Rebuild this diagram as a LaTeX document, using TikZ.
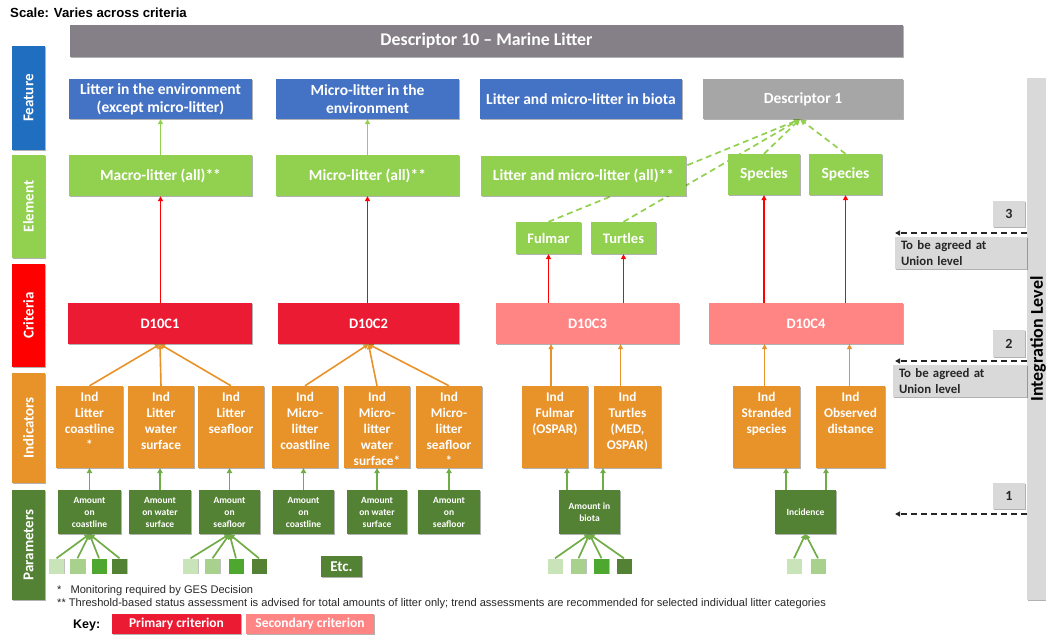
\documentclass[tikz,border=0pt]{standalone}
\usepackage{fontspec}
\setmainfont{Carlito}
\newfontfamily\arialf{Liberation Sans}
\usetikzlibrary{arrows.meta,shadows}
\pgfdeclarelayer{bg}
\pgfsetlayers{bg,main}
\definecolor{cFeatL}{HTML}{1F6EC0}
\definecolor{cFeat}{HTML}{4472C4}
\definecolor{cElem}{HTML}{92D050}
\definecolor{cCritL}{HTML}{FF0000}
\definecolor{cPrim}{HTML}{EC1B34}
\definecolor{cSec}{HTML}{FF8585}
\definecolor{cInd}{HTML}{E8922A}
\definecolor{cPar}{HTML}{548235}
\definecolor{cD10}{HTML}{858088}
\definecolor{cD1}{HTML}{A6A6A6}
\definecolor{cGrayL}{HTML}{D9D9D9}
\definecolor{sqA}{HTML}{C8E4B8}
\definecolor{sqB}{HTML}{A9D18E}
\definecolor{sqC}{HTML}{4EA72E}
\definecolor{sqD}{HTML}{548235}
\definecolor{cArrG}{HTML}{70AD47}
\definecolor{cTxt}{HTML}{262626}
\tikzset{
  box/.style={rectangle, inner sep=0pt, text=white, align=center,
    drop shadow={shadow xshift=0.8pt, shadow yshift=-0.8pt, opacity=0.3, fill=black}},
  sz/.style 2 args={minimum width=#1pt, minimum height=#2pt},
  big/.style={font=\fontsize{15.5}{18}\selectfont\bfseries},
  med/.style={font=\fontsize{14.5}{17}\selectfont\bfseries},
  small/.style={font=\fontsize{9.5}{12}\selectfont\bfseries},
  lab/.style={box, sz={33}{103}, font=\fontsize{15}{17}\selectfont\bfseries},
  feat/.style={box, big, fill=cFeat, sz={183}{40}},
  elem/.style={box, big, fill=cElem, sz={183}{41}},
  prim/.style={box, med, fill=cPrim, sz={183}{41}},
  sec/.style={box, med, fill=cSec, sz={183}{41}},
  ind/.style={box, fill=cInd, sz={66}{82}},
  indtxt/.style={anchor=north, yshift=-6.5pt, inner sep=0pt, text=white, align=center,
    font=\fontsize{13.3}{16}\selectfont\bfseries},
  par/.style={box, small, fill=cPar, sz={61}{44}},
  sq/.style={rectangle, inner sep=0pt, minimum size=15pt,
    drop shadow={shadow xshift=0.6pt, shadow yshift=-0.6pt, opacity=0.25, fill=black}},
  grayb/.style={box, fill=cGrayL, text=cTxt},
  garr/.style={draw=cElem, line width=1.6pt, -{Triangle[length=5pt,width=5pt]}},
  gdash/.style={draw=cElem, line width=1.7pt, dash pattern=on 6pt off 4pt, -{Triangle[length=6pt,width=6pt]}},
  rarr/.style={draw=red, line width=1.4pt, -{Triangle[length=5pt,width=5pt]}},
  oarr/.style={draw=cInd, line width=1.6pt, -{Triangle[length=5pt,width=5pt]}},
  parr/.style={draw=cArrG, line width=1.7pt, -{Triangle[length=5pt,width=5.5pt]}},
  kdash/.style={draw=cTxt, line width=1.4pt, dash pattern=on 6pt off 4pt, -{Triangle[length=5pt,width=5pt]}},
  foot/.style={anchor=base west, inner sep=0pt, text=cTxt, font=\arialf\fontsize{11.1}{13}\selectfont},
}
\begin{document}
\begin{tikzpicture}[x=1pt,y=-1pt]
\useasboundingbox (0,0) rectangle (1046,637);
\clip (0,0) rectangle (1046,637);

% title
\node[anchor=base west, inner sep=0pt, font=\arialf\bfseries\fontsize{13.2}{15}\selectfont] (scale) at (10,17.5) {Scale: Varies across criteria};

% left label column
\node[lab, fill=cFeatL, sz={33}{104}] (lFeat) at (28.5,98) {\rotatebox{90}{Feature}};
\node[lab, fill=cElem] (lElem) at (28.5,206.5) {\rotatebox{90}{Element}};
\node[lab, fill=cCritL] (lCrit) at (28.5,315.5) {\rotatebox{90}{Criteria}};
\node[lab, fill=cInd, sz={33}{110}] (lInd) at (28.5,428) {\rotatebox{90}{Indicators}};
\node[lab, fill=cPar, sz={33}{110}] (lPar) at (28.5,545) {\rotatebox{90}{Parameters}};

% descriptor 10
\node[box, fill=cD10, sz={833}{32}, font=\fontsize{17.8}{20}\selectfont\bfseries] (d10) at (486.5,41) {Descriptor 10 -- Marine Litter};

% feature row
\node[feat] (f1) at (160.5,99) {Litter in the environment\\(except micro-litter)};
\node[feat] (f2) at (367.5,99) {Micro-litter in the\\environment};
\node[feat, sz={202}{40}] (f3) at (581,99) {Litter and micro-litter in biota};
\node[feat, fill=cD1, sz={200}{40}] (d1) at (803,99) {Descriptor 1};

% element row
\node[elem] (e1) at (160.5,175.5) {Macro-litter (all)**};
\node[elem] (e2) at (367.5,175.5) {Micro-litter (all)**};
\node[elem, sz={205}{40}] (e3) at (583.5,176) {Litter and micro-litter (all)**};
\node[elem, sz={72}{41}] (s1) at (764,174.5) {Species};
\node[elem, sz={73}{41}] (s2) at (845.5,174.5) {Species};
\node[box, med, fill=cElem, sz={65}{32}] (fu) at (548.5,238) {Fulmar};
\node[box, med, fill=cElem, sz={65}{32}] (tu) at (623.5,238) {Turtles};

% criteria row
\node[prim, sz={184}{41}] (c1) at (160,323.5) {D10C1};
\node[prim, sz={181}{41}] (c2) at (368.5,323.5) {D10C2};
\node[sec] (c3) at (587.5,323.5) {D10C3};
\node[sec, sz={194}{41}] (c4) at (806,323.5) {D10C4};

% indicators row
\node[ind, sz={67}{82}, label={[indtxt]north:{Ind\\Litter\\coastline\\*}}] (i1) at (89.5,427) {};
\node[ind, label={[indtxt]north:{Ind\\Litter\\water\\surface}}] (i2) at (161,427) {};
\node[ind, label={[indtxt]north:{Ind\\Litter\\seafloor}}] (i3) at (231,427) {};
\node[ind, label={[indtxt]north:{Ind\\Micro-\\litter\\coastline}}] (i4) at (305,427) {};
\node[ind, label={[indtxt]north:{Ind\\Micro-\\litter\\water\\surface*}}] (i5) at (377,427) {};
\node[ind, label={[indtxt]north:{Ind\\Micro-\\litter\\seafloor\\*}}] (i6) at (449,427) {};
\node[ind, label={[indtxt]north:{Ind\\Fulmar\\(OSPAR)}}] (i7) at (555,427) {};
\node[ind, sz={67}{82}, label={[indtxt]north:{Ind\\Turtles\\(MED,\\OSPAR)}}] (i8) at (627.5,427) {};
\node[ind, sz={67}{82}, label={[indtxt]north:{Ind\\Stranded\\species}}] (i9) at (766.5,427) {};
\node[ind, sz={69}{82}, label={[indtxt]north:{Ind\\Observed\\distance}}] (i10) at (850.5,427) {};

% parameters row
\node[par, sz={63}{44}] (p1) at (89.5,512) {Amount\\on\\coastline};
\node[par, sz={62}{44}] (p2) at (160,512) {Amount\\on water\\surface};
\node[par] (p3) at (229.5,512) {Amount\\on\\seafloor};
\node[par] (p4) at (303.5,512) {Amount\\on\\coastline};
\node[par, sz={60}{44}] (p5) at (377,512) {Amount\\on water\\surface};
\node[par, sz={62}{44}] (p6) at (449,512) {Amount\\on\\seafloor};
\node[par] (pb) at (589.5,512) {Amount in\\biota};
\node[par] (pi) at (805.5,512) {Incidence};
\node[box, fill=cPar, sz={41}{21}, font=\fontsize{15}{17}\selectfont\bfseries] (etc) at (341.5,566.5) {Etc.};

% small squares
\node[sq, fill=sqA] (a1) at (56.5,566) {};
\node[sq, fill=sqB] (a2) at (77.5,566) {};
\node[sq, fill=sqC] (a3) at (99,566) {};
\node[sq, fill=sqD] (a4) at (119.5,566) {};
\node[sq, fill=sqA] (b1) at (190.5,566) {};
\node[sq, fill=sqB] (b2) at (212.5,566) {};
\node[sq, fill=sqC] (b3) at (236,566) {};
\node[sq, fill=sqD] (b4) at (259,566) {};
\node[sq, fill=sqA] (g1) at (555,566) {};
\node[sq, fill=sqB] (g2) at (578.5,566) {};
\node[sq, fill=sqC] (g3) at (601.5,566) {};
\node[sq, fill=sqD] (g4) at (624,566) {};
\node[sq, fill=sqA] (h1) at (794,566) {};
\node[sq, fill=sqB] (h2) at (818,566) {};

% right side
\node[box, fill=cGrayL, sz={22}{522}] (bar) at (1038,339) {\rotatebox{90}{\color{black}\fontsize{18}{20}\selectfont\bfseries Integration Level}};
\node[grayb, sz={32}{26}, font=\fontsize{14}{16}\selectfont\bfseries] (n3) at (1009,214) {3};
\node[grayb, sz={32}{27}, font=\fontsize{14}{16}\selectfont\bfseries] (n2) at (1009,343.5) {2};
\node[grayb, sz={32}{26}, font=\fontsize{14}{16}\selectfont\bfseries] (n1) at (1009,496) {1};
\node[grayb, sz={132}{32}, align=left, text width=120pt, inner xsep=6pt, font=\fontsize{12.8}{15.5}\selectfont\bfseries] (ag3) at (961,253) {To be agreed at\\Union level};
\node[grayb, sz={134}{32}, align=left, text width=122pt, inner xsep=6pt, font=\fontsize{12.8}{15.5}\selectfont\bfseries] (ag2) at (960,381) {To be agreed at\\Union level};
\coordinate (t3) at (895,233);
\coordinate (t2) at (895,361);
\coordinate (t1) at (895,514);

% footnotes and key
\node[foot] (fn1) at (57,593.5) {*\hskip 9pt Monitoring required by GES Decision};
\node[foot] (fn2) at (57,606) {** Threshold-based status assessment is advised for total amounts of litter only; trend assessments are recommended for selected individual litter categories};
\node[anchor=base west, inner sep=0pt, font=\arialf\bfseries\fontsize{12.5}{14}\selectfont] (key) at (73,628.5) {Key:};
\node[box, fill=cPrim, sz={129}{20}, font=\fontsize{13.5}{15}\selectfont\bfseries] (kp) at (176.5,624) {Primary criterion};
\node[box, fill=cSec, sz={128}{20}, font=\fontsize{13.5}{15}\selectfont\bfseries] (ks) at (310,624) {Secondary criterion};

\begin{pgfonlayer}{bg}
% element -> feature
\draw[garr] (e1.north) -- (f1.south);
\draw[garr] (e2.north) -- (f2.south);
% dashed to descriptor 1
\draw[gdash] (fu.north) -- ([xshift=-3pt]d1.south);
\draw[gdash] (tu.north) -- ([xshift=-3pt]d1.south);
\draw[gdash] (s1.north) -- ([xshift=-3pt]d1.south);
\draw[gdash] (s2.north) -- ([xshift=-3pt]d1.south);
% criteria -> element
\draw[rarr] (c1.north -| e1.south) -- (e1.south);
\draw[rarr] (c2.north -| e2.south) -- (e2.south);
\draw[rarr] (c3.north -| fu.south) -- (fu.south);
\draw[rarr] (c3.north -| tu.south) -- (tu.south);
\draw[rarr] (c4.north -| s1.south) -- (s1.south);
\draw[rarr] (c4.north -| s2.south) -- (s2.south);
% indicators -> criteria
\draw[oarr] (i1.north) -- (c1.south);
\draw[oarr] (i2.north) -- (c1.south);
\draw[oarr] (i3.north) -- (c1.south);
\draw[oarr] (i4.north) -- (c2.south);
\draw[oarr] (i5.north) -- (c2.south);
\draw[oarr] (i6.north) -- (c2.south);
\draw[oarr] ([xshift=-4pt]i7.north) -- ([xshift=-4pt]i7.north |- c3.south);
\draw[oarr] ([xshift=-7pt]i8.north) -- ([xshift=-7pt]i8.north |- c3.south);
\draw[oarr] ([xshift=-2pt]i9.north) -- ([xshift=-2pt]i9.north |- c4.south);
\draw[oarr] ([xshift=-1pt]i10.north) -- ([xshift=-1pt]i10.north |- c4.south);
% parameters -> indicators
\draw[parr] (p1.north) -- (i1.south);
\draw[parr] (p2.north) -- (p2.north |- i2.south);
\draw[parr] (p3.north) -- (p3.north |- i3.south);
\draw[parr] (p4.north) -- (p4.north |- i4.south);
\draw[parr] (p5.north) -- (p5.north |- i5.south);
\draw[parr] (p6.north) -- (p6.north |- i6.south);
\draw[parr] ([xshift=-22.5pt]pb.north) -- ([xshift=-22.5pt]pb.north |- i7.south);
\draw[parr] ([xshift=13.5pt]pb.north) -- ([xshift=13.5pt]pb.north |- i8.south);
\draw[parr] ([xshift=-19.5pt]pi.north) -- ([xshift=-19.5pt]pi.north |- i9.south);
\draw[parr] ([xshift=20.5pt]pi.north) -- ([xshift=20.5pt]pi.north |- i10.south);
% squares -> parameters
\foreach \s in {a1,a2,a3,a4} \draw[parr] (\s.north) -- (p1.south);
\foreach \s in {b1,b2,b3,b4} \draw[parr] (\s.north) -- (p3.south);
\foreach \s in {g1,g2,g3,g4} \draw[parr] (\s.north) -- (pb.south);
\foreach \s in {h1,h2} \draw[parr] (\s.north) -- (pi.south);
% integration level arrows
\draw[kdash] (t3 -| bar.west) -- (t3);
\draw[kdash] (t2 -| bar.west) -- (t2);
\draw[kdash] (t1 -| bar.west) -- (t1);
\end{pgfonlayer}
\end{tikzpicture}
\end{document}
